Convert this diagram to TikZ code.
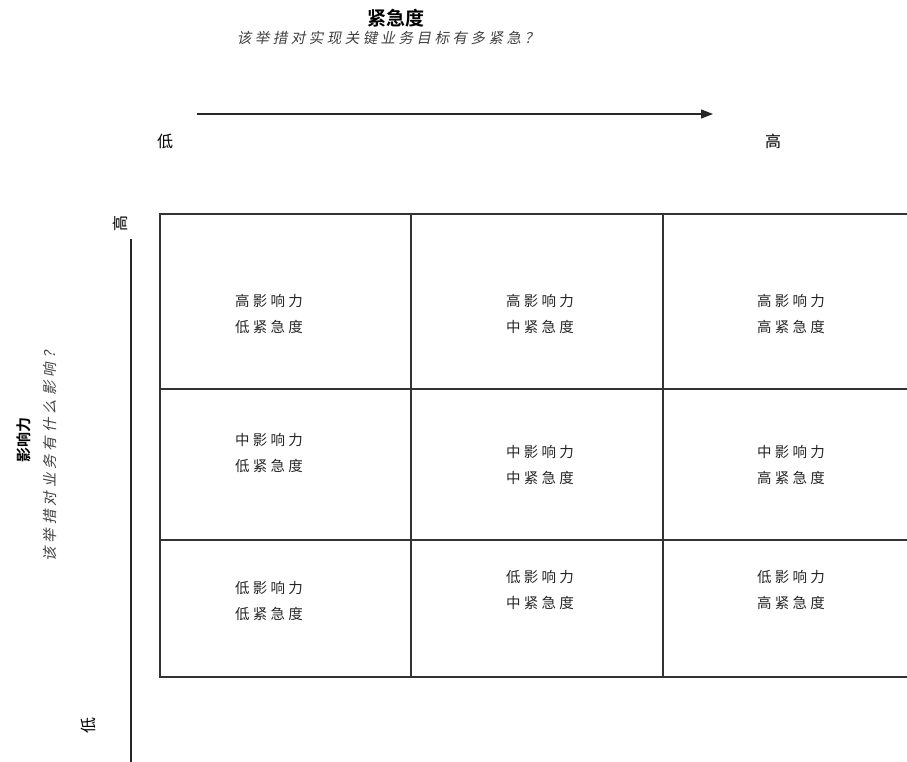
\documentclass[tikz,border=0pt]{standalone}
\usepackage{fontspec}
\usetikzlibrary{arrows.meta}
\setmainfont{Noto Sans CJK SC}
\newfontfamily\cellfont{Noto Sans CJK SC}[LetterSpace=22]
\newfontfamily\subfont{Noto Sans CJK SC}[FakeSlant=0.2,LetterSpace=24]
\newfontfamily\ysubfont{Noto Sans CJK SC}[FakeSlant=0.2,LetterSpace=27]
\newfontfamily\headfont{Noto Sans CJK SC}[BoldFont=* Bold]
\begin{document}
\begin{tikzpicture}[x=1pt,y=-1pt,
  cell/.style={draw=black!80, line width=1.2pt, anchor=north west, inner sep=0pt, outer sep=0pt},
  celltext/.style={align=center, inner sep=0pt, font=\cellfont\fontsize{14.5}{26}\selectfont, text=black!85},
  axisline/.style={draw=black!85, line width=1.1pt},
  axislabel/.style={inner sep=0pt, font=\fontsize{16}{18}\selectfont},
  headtext/.style={inner sep=0pt, font=\headfont\bfseries},
  subtext/.style={inner sep=0pt, font=\subfont\fontsize{14.5}{16}\selectfont, text=black!75}]
\useasboundingbox (0,0) rectangle (907,761);
\clip (0,0) rectangle (907,761);
% grid cells
\node[cell, minimum width=251pt, minimum height=175pt] (c11) at (160,214) {};
\node[cell, minimum width=252pt, minimum height=175pt] (c12) at (411,214) {};
\node[cell, minimum width=252pt, minimum height=175pt] (c13) at (663,214) {};
\node[cell, minimum width=251pt, minimum height=151pt] (c21) at (160,389) {};
\node[cell, minimum width=252pt, minimum height=151pt] (c22) at (411,389) {};
\node[cell, minimum width=252pt, minimum height=151pt] (c23) at (663,389) {};
\node[cell, minimum width=251pt, minimum height=137pt] (c31) at (160,540) {};
\node[cell, minimum width=252pt, minimum height=137pt] (c32) at (411,540) {};
\node[cell, minimum width=252pt, minimum height=137pt] (c33) at (663,540) {};
% cell texts
\node[celltext] (t11) at (269,314) {高影响力\\低紧急度};
\node[celltext] (t12) at (540,314) {高影响力\\中紧急度};
\node[celltext] (t13) at (791,314) {高影响力\\高紧急度};
\node[celltext] (t21) at (269,453) {中影响力\\低紧急度};
\node[celltext] (t22) at (540,465) {中影响力\\中紧急度};
\node[celltext] (t23) at (791,465) {中影响力\\高紧急度};
\node[celltext] (t31) at (269,601) {低影响力\\低紧急度};
\node[celltext] (t32) at (540,590) {低影响力\\中紧急度};
\node[celltext] (t33) at (791,590) {低影响力\\高紧急度};
% horizontal axis
\node[headtext, font=\headfont\bfseries\fontsize{19}{21}\selectfont] (xtitle) at (396,18) {紧急度};
\node[subtext] (xsub) at (388,38) {该举措对实现关键业务目标有多紧急？};
\coordinate (hs) at (197,114);
\coordinate (he) at (713,114);
\draw[axisline, -{Triangle[length=12pt,width=9pt]}] (hs) -- (he);
\node[axislabel] (xlow) at (165,141) {低};
\node[axislabel] (xhigh) at (773,141) {高};
% vertical axis
\node[headtext, font=\headfont\bfseries\fontsize{15}{17}\selectfont, rotate=90] (ytitle) at (24,440) {影响力};
\node[subtext, font=\ysubfont\fontsize{14.5}{16}\selectfont, rotate=90] (ysub) at (50,453) {该举措对业务有什么影响？};
\coordinate (vs) at (131,239);
\coordinate (ve) at (131,770);
\draw[axisline] (vs) -- (ve);
\node[axislabel, rotate=90] (yhigh) at (120,223) {高};
\node[axislabel, rotate=90] (ylow) at (88,725) {低};
\end{tikzpicture}
\end{document}
